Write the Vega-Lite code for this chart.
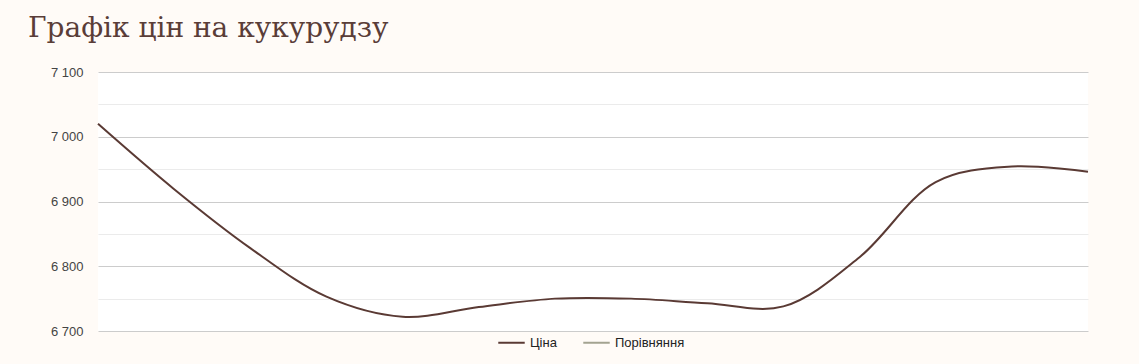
{
  "$schema": "https://vega.github.io/schema/vega-lite/v6.json",
  "width": 990,
  "height": 259,
  "autosize": {"type": "none"},
  "padding": {"left": 98, "top": 72, "right": 51, "bottom": 33},
  "background": "#fffbf7",
  "view": {"fill": "#ffffff", "stroke": null},
  "title": {
    "text": "Графік цін на кукурудзу",
    "anchor": "start",
    "frame": "group",
    "dx": -70,
    "offset": 23,
    "font": "DejaVu Serif",
    "fontSize": 28,
    "fontWeight": "normal",
    "color": "#5a3d38"
  },
  "data": {
    "values": [
      {"i": 1, "price": 7020, "series": "Ціна"},
      {"i": 2, "price": 6919, "series": "Ціна"},
      {"i": 3, "price": 6828, "series": "Ціна"},
      {"i": 4, "price": 6753, "series": "Ціна"},
      {"i": 5, "price": 6722, "series": "Ціна"},
      {"i": 6, "price": 6737, "series": "Ціна"},
      {"i": 7, "price": 6750, "series": "Ціна"},
      {"i": 8, "price": 6750, "series": "Ціна"},
      {"i": 9, "price": 6743, "series": "Ціна"},
      {"i": 10, "price": 6738, "series": "Ціна"},
      {"i": 11, "price": 6814, "series": "Ціна"},
      {"i": 12, "price": 6930, "series": "Ціна"},
      {"i": 13, "price": 6954, "series": "Ціна"},
      {"i": 14, "price": 6946, "series": "Ціна"}
    ]
  },
  "mark": {"type": "line", "interpolate": "catmull-rom", "strokeWidth": 2},
  "encoding": {
    "x": {
      "field": "i",
      "type": "quantitative",
      "axis": null,
      "scale": {"domain": [1, 14], "nice": false, "zero": false}
    },
    "y": {
      "field": "price",
      "type": "quantitative",
      "scale": {"domain": [6700, 7100], "nice": false, "zero": false},
      "axis": {
        "title": null,
        "values": [6700, 6750, 6800, 6850, 6900, 6950, 7000, 7050, 7100],
        "domain": false,
        "ticks": false,
        "labelPadding": 15,
        "labelFont": "Liberation Sans",
        "labelFontSize": 13,
        "labelColor": "#444444",
        "labelExpr": "datum.value % 100 === 0 ? replace(format(datum.value, ','), ',', ' ') : ''",
        "gridColor": {"condition": {"test": "datum.value % 100 === 0", "value": "#cccccc"}, "value": "#ebebeb"},
        "gridWidth": 1
      }
    },
    "color": {
      "field": "series",
      "type": "nominal",
      "scale": {"domain": ["Ціна", "Порівняння"], "range": ["#5a3a34", "#a3a391"]},
      "legend": {
        "title": null,
        "orient": "none",
        "direction": "horizontal",
        "legendX": 399,
        "legendY": 256,
        "symbolType": "stroke",
        "symbolStrokeWidth": 2,
        "symbolSize": 700,
        "labelFont": "Liberation Sans",
        "labelFontSize": 13,
        "labelColor": "#222222",
        "columnPadding": 22
      }
    }
  }
}
